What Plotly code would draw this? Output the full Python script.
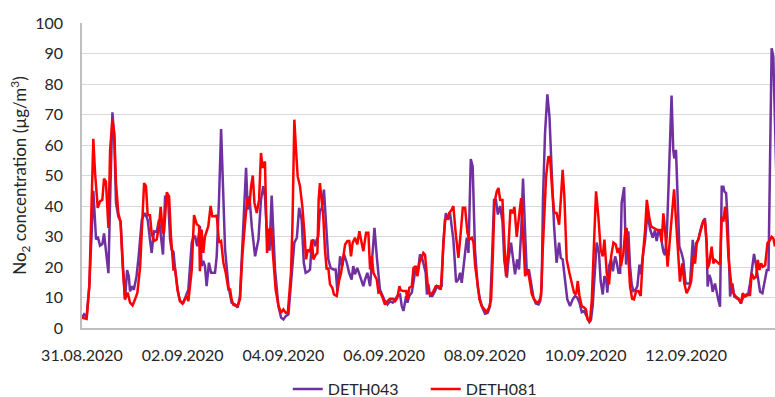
import pandas as pd
import plotly.graph_objects as go

START = pd.Timestamp("2020-08-31 00:00")

# DETH043 readings: hours since 31.08.2020 00:00 and NO2 in µg/m³
deth043_hours = [
    0, 1, 2.2, 3.5, 4.6, 5.4, 6.7, 7.5, 8.6, 9.7, 10.5, 11.5, 12.6, 13.4, 14.5, 15.4,
    16.2, 17.3, 18.4, 19.4, 20.5, 21.5, 22.3, 22.9, 23.9, 24.7, 26, 27, 28.5, 30, 31.3,
    32.4, 33.2, 34.3, 35.6, 36.7, 38, 38.6, 39.6, 41, 42, 42.7, 43.6, 44.4, 45.8, 46.7,
    48.3, 49.6, 50.7, 52.3, 53.1, 53.9, 54.9, 56.2, 57, 57.8, 58.6, 59.4, 60.5, 61.5,
    63.4, 64.2, 65.3, 66.3, 67.4, 68.2, 69.8, 71.3, 72.9, 74.2, 75.3, 76.9, 78.2, 79,
    79.8, 80.9, 82.5, 84.1, 85.3, 86.4, 87.2, 88.5, 89.4, 90.4, 91.2, 92, 93.6, 94.9,
    96, 97.1, 98.4, 99.6, 101.2, 102.4, 103.5, 104.7, 105.7, 106.6, 107.9, 108.7, 109.5,
    110.3, 111.1, 111.9, 112.6, 113.4, 114.2, 115.3, 116.3, 117.4, 118.5, 119.8, 120.9,
    121.7, 123, 124.1, 124.9, 126.2, 127.3, 128.5, 129.3, 130.1, 131.2, 132.2, 133.3,
    134.1, 134.9, 136, 137.3, 138.1, 139.4, 140.5, 141.3, 142, 143.3, 144.4, 145.6,
    146.8, 148.1, 149.2, 150.3, 151.6, 152.4, 153.2, 154.5, 155.1, 156, 157.2, 158,
    159.2, 160, 161.1, 161.9, 163, 163.8, 164.4, 165.1, 165.9, 167, 168.3, 169.1, 170.2,
    171.4, 172.2, 173.4, 174.3, 175.4, 177, 178.3, 179.4, 180.2, 181, 182.3, 183.4,
    184.2, 185.3, 186.2, 187.3, 188.6, 189.7, 190.8, 192.1, 193.4, 194.5, 195.3, 196.4,
    197.3, 198.2, 199.3, 200.4, 201.3, 202.5, 203.3, 204.5, 205.3, 206.4, 207.4, 208.3,
    209.3, 210.2, 211.2, 212, 213, 214, 215.2, 216.3, 217.6, 218.4, 219.1, 219.7, 220.7,
    221.8, 222.8, 223.9, 225, 226.2, 227.4, 228.2, 229.1, 230.2, 231.3, 232.6, 233.9,
    235, 236, 237.1, 238.2, 239.3, 240.6, 241.8, 242.6, 243.4, 244.5, 245.3, 246.4,
    247.2, 248.2, 249, 249.8, 250.4, 251.2, 252.2, 253, 254.1, 254.9, 255.7, 256.5,
    257.2, 258.4, 259.3, 260.4, 261.2, 262, 262.8, 263.9, 264.7, 265.7, 266.3, 267.3,
    268.4, 269.5, 270.8, 272, 273.1, 273.9, 274.7, 275.5, 276.3, 277.1, 277.9, 278.7,
    279.5, 280.3, 281, 281.8, 282.3, 283.1, 283.9, 284.7, 285.8, 286.6, 287.7, 288.7,
    289.8, 291.1, 291.9, 292.7, 293.8, 294.6, 295.7, 296.9, 297.7, 298.2, 299, 299.8,
    300.6, 301.7, 302.5, 303.3, 304.1, 304.9, 305.7, 306.2, 307, 307.8, 308.9, 310,
    310.9, 312.1, 313.2, 314.1, 315.2, 316.3, 317.6, 318.4, 319.2, 320.3, 321.1, 322.1,
    323.2, 324.3, 325.2, 326.4, 327.2, 328, 328.7, 329.5, 330.3, 331.3,
]
deth043_values = [
    3.4, 4.5, 3.5, 14, 31, 45, 29, 30, 27, 27.5, 31, 25, 18, 42, 70.7, 62,
    41, 36.6, 35, 22, 9.4, 19, 17, 12, 13.7, 12.5, 17, 23.5, 35.5, 37.7, 35.5,
    29, 24.6, 31.7, 31.5, 35.5, 26.8, 24.1, 43, 43, 29, 25.7, 25, 19, 11.6, 8.8,
    8.3, 10.5, 12.6, 28, 30, 30, 26.8, 33.4, 20.3, 22, 20.3, 13.7, 21.4, 18.1,
    18.1, 23.5, 42, 65.2, 42, 25.7, 13.7, 8.3, 7.7, 6.7, 10.5, 36.6, 52.5, 38.8,
    43.2, 33.4, 23.5, 29, 42, 46.5, 43.2, 25.7, 25.7, 43.4, 30, 19.2, 7.2, 3.4,
    2.8, 3.9, 4.5, 13.7, 28, 29.6, 39.4, 35.5, 21.4, 18.1, 18.6, 19.2, 28,
    29, 26.8, 29, 30, 38.8, 38.8, 45.4, 32.3, 22.5, 19.7, 19.2, 19.2,
    12.1, 23.5, 20.3, 24.1, 21.4, 18.1, 15.9, 20.3, 17.6, 19.7, 17.6, 15.9,
    13.7, 15.9, 18.1, 13.7, 21.4, 32.8, 23.5, 18, 12.6, 10.5, 8.8, 7.7,
    8.8, 8.3, 9.4, 10.5, 11, 7.2, 5.6, 10.5, 8.3, 10.5, 11.6, 14.8,
    20.3, 18.1, 24.1, 23.5, 19.7, 18.1, 11, 14.3, 10.5, 10.5, 12.1, 13.7, 13,
    13.7, 28, 37.7, 35.5, 37.7, 29, 15, 15.9, 18.1, 14.8, 23.5, 29.6,
    24.6, 55.4, 53, 25.7, 13.7, 9.4, 6.7, 4.7, 5, 7.2, 20.3, 42,
    42, 37.2, 40, 35, 21.9, 16.5, 22.5, 28, 23.5, 17.6, 22.5, 19.2,
    31.2, 49, 31.2, 18.1, 19.2, 14.3, 9.9, 8, 7.7, 8.8, 13.7, 42, 64,
    76.6, 69.4, 50.8, 33.4, 21.4, 28, 23, 22.5, 15.9, 9.4, 7.2, 9.4,
    10.5, 10, 8.3, 5.2, 5.6, 3.9, 2, 2.8, 7.2, 19.2, 28, 24.6,
    15.4, 11, 17, 16, 11.6, 20.3, 22.5, 18.6, 23.5, 21.4, 18.1, 18.1,
    41, 46.2, 20.8, 31.7, 20.3, 14.3, 12.1, 12.6, 13.7, 20.8, 17.6, 23.5,
    29, 37.7, 32.3, 29.6, 32, 28.5, 31.6, 31.6, 27.8, 25, 23.9, 30,
    45.2, 61.6, 76.2, 58.4, 55.6, 58.4, 39.8, 26.7, 24.5, 22.3, 14.6, 14.6,
    14.6, 28.9, 21.2, 27.8, 28.9, 31.6, 34.3, 36, 28, 13.6, 17.4, 15.7,
    11.9, 14.6, 11.4, 9.2, 7, 46.3, 46.3, 44.7, 44.2, 34.3, 10.3, 14.6,
    10.3, 9.7, 9.2, 8.1, 10.3, 10.8, 11.4, 14.6, 19, 24.3, 21.2, 16.8,
    11.9, 11.4, 14.6, 19, 19, 54, 91.7, 89, 65, 40,
]

# DETH081 readings: hours since 31.08.2020 00:00 and NO2 in µg/m³
deth081_hours = [
    0, 2.2, 3.5, 4.6, 5.4, 6.2, 7.5, 8.6, 9.7, 10.5, 11.4, 12.6, 13.4, 14.5, 15.4,
    16.2, 17.3, 18.4, 19.4, 20.5, 21.8, 22.9, 24.1, 25.3, 26.4, 27.7, 28.5, 29.6,
    30.5, 31.3, 32.4, 33.2, 34.3, 35.6, 36.7, 37.5, 38.5, 39.1, 40.4, 41.5, 42.4,
    43.6, 44.4, 45.5, 46.7, 47.9, 49, 50, 50.7, 52.3, 53.4, 54.7, 55.8, 56.2, 57,
    57.8, 58.6, 60.2, 61.3, 62.1, 63.4, 64.2, 65.3, 66.3, 67.4, 68.5, 69.8, 70.6,
    71.3, 72.1, 72.9, 74.2, 75.3, 76.4, 77.7, 78.8, 79.8, 80.6, 81.4, 82.2, 83.3,
    84.4, 85.3, 86.1, 87.2, 88.2, 89.2, 90.1, 91.2, 92.3, 93.6, 94.9, 96, 97.1,
    98.1, 99.6, 100.3, 101.2, 102, 102.8, 103.9, 105, 106, 106.8, 107.6, 108.7,
    109.5, 110.3, 111.5, 112.2, 112.8, 113.4, 114.2, 115, 115.8, 116.6, 117.4,
    118.2, 119.3, 120.1, 121.4, 122.5, 123.5, 124.6, 125.4, 126.5, 127.4, 128.2,
    129, 130.1, 131.2, 132.2, 133, 134.1, 135.4, 136.5, 137.3, 138.1, 138.9,
    140.5, 141.3, 142.1, 143.3, 144.4, 145.6, 146.8, 148.1, 149.2, 150.3, 151.3,
    151.9, 153.2, 154.5, 155.1, 156, 157.2, 158, 159, 159.9, 160.8, 161.6, 162.7,
    163.5, 164.3, 165.1, 166.4, 167.5, 168.6, 169.9, 171, 171.8, 173, 174.2, 175,
    176.2, 177, 178.1, 179.4, 180.5, 181.5, 182.6, 183.7, 184.6, 185.8, 186.6,
    187.4, 188.5, 189.4, 190.5, 191.8, 192.9, 194, 195, 195.8, 196.6, 197.7, 198.5,
    199.3, 200.4, 201.3, 202.1, 203.2, 204.2, 205.2, 206.1, 207.2, 208.3, 209.3,
    210.2, 211.2, 212.5, 213.4, 214.4, 215.5, 216.8, 217.9, 218.8, 219.6, 220.4,
    221.2, 222.3, 223.1, 224.2, 225.1, 226.2, 227.4, 228.2, 229.1, 229.9, 231,
    232.3, 233.4, 234.5, 235.5, 236.3, 237.1, 238.2, 239.3, 240.2, 241, 242.1,
    243, 244.1, 245, 246.1, 247.2, 248.2, 249, 250.1, 251.2, 252.2, 253.3, 254.4,
    255.3, 256.1, 256.9, 258, 259, 259.6, 260.4, 261.2, 262.2, 263.1, 264.1, 265.2,
    266.3, 267.3, 268.4, 269.2, 270.3, 271.2, 272.4, 273.6, 274.3, 275.5, 276.3,
    277.1, 277.9, 279.1, 280.3, 281.4, 282.2, 283, 283.9, 285, 286.1, 287.1, 288.2,
    289.3, 290.3, 291.4, 292.2, 293, 294.1, 295, 296.2, 297, 297.7, 298.2, 299,
    300.1, 300.9, 301.7, 302.5, 303.3, 304.1, 304.9, 305.7, 306.5, 307.3, 308.1,
    309.4, 310.5, 311.6, 312.8, 314.1, 314.9, 316, 317.3, 318.4, 319.2, 320.3,
    321.3, 322.1, 322.9, 323.7, 324.5, 325.6, 326.7, 328, 328.7, 329.5, 330.3,
]
deth081_values = [
    3.4, 3, 13.7, 42, 62, 51, 39.4, 41.5, 42, 49, 48, 32.8, 58.5, 68.3, 64,
    47.5, 37.7, 34.5, 20, 9.4, 11.6, 8.3, 7.4, 9.4, 11.6, 20, 31, 47.5,
    46.5, 37, 37, 31, 28.5, 29, 33.4, 39.7, 31, 31.5, 44.5, 43.2, 30,
    19.2, 19.2, 12.6, 8.8, 8, 9.4, 10.5, 8.8, 19, 37, 34, 33.4, 18.6, 32.3,
    24.6, 30, 33.4, 40, 36.6, 36.6, 37, 28, 28.5, 21.4, 18.1, 12.6, 12.6,
    9.4, 7.7, 7.4, 7.4, 9.4, 23.5, 34.5, 42.6, 40, 46.5, 50, 41, 37.7,
    42, 57.4, 52.5, 54.6, 24.6, 32.3, 32.8, 22.5, 12.6, 7.4, 5, 6.1, 5,
    5, 18.1, 33.4, 68.3, 58.5, 49.7, 46.5, 40, 31.2, 22.5, 25.7, 25,
    29, 22.5, 24.1, 24.6, 42, 47.5, 42, 36.6, 25.7, 19.2, 19.7,
    14.3, 13.2, 11, 10.5, 15.4, 18.1, 24.1, 27.4, 28.5, 28.5, 23.5,
    27.9, 29.6, 27.4, 31.7, 29, 25.2, 31.2, 31.2, 19.2, 23.5, 18.1,
    15.9, 11.6, 11.8, 9.9, 7.7, 8.8, 9.6, 9.6, 8.8, 9.9, 13.7,
    12.4, 12.1, 12.1, 9.4, 13.2, 13.7, 19.7, 20.3, 17, 21.4, 22.5, 24.6,
    24, 18.1, 11.6, 11, 12.1, 13.7, 13.7, 12.6, 22.5, 35.5, 36, 37.7,
    38.8, 40, 31.2, 23, 31.2, 39.4, 39.4, 31.2, 29, 29.6, 28,
    20.3, 14.8, 9.4, 7.2, 5.9, 5.2, 6.7, 9.4, 23.5, 41, 44.8, 45.9,
    42, 42, 28, 17, 25.7, 38.8, 37.7, 39.7, 29.9, 37.7, 42.6,
    31.2, 17, 19.2, 15.4, 11, 9.4, 8.3, 8.8, 10.5, 25.7, 40,
    49.7, 56.3, 55.7, 44.3, 37.7, 37.7, 33.9, 42, 51.9, 43.2, 22.5,
    18.1, 14.8, 11.6, 11, 15.4, 10.5, 7.2, 6.7, 6.1, 2.8, 2,
    9.4, 29, 44.8, 36.6, 25.7, 23.5, 29, 18.1, 14.3, 23.5, 28, 27.4,
    24.6, 26.3, 20.3, 24.6, 32.3, 32.8, 24.6, 13.7, 9.6, 9.4, 12.1, 12.1,
    10.5, 23.5, 32.3, 42, 36.6, 33.4, 32.8, 32.3, 32.1, 32.1, 28.3,
    37.6, 32.1, 20.1, 31, 40.9, 45.5, 36.5, 25.6, 15.2, 21.2, 14.6, 11.4,
    13, 15.2, 23.4, 21.2, 27.8, 29.9, 32.1, 35.4, 34.3, 27.8, 19.6, 21.2,
    26.7, 21.2, 22.3, 21.8, 21.2, 20.8, 36.5, 34.9, 39.8, 34.3, 23.4,
    14.6, 11.4, 10.3, 9.7, 8.1, 11.4, 10.3, 10.8, 10.8, 17.9, 16.3,
    16.8, 22.3, 19, 21.2, 20.1, 20.6, 27.8, 28.9, 29.9, 29.4, 26.7,
]

x_end_hours = 330.3
tick_days = 2

PURPLE = "#7030A0"
RED = "#FF0000"
GRID = "#D9D9D9"
AXIS = "#BFBFBF"
TEXT = "#262626"
FONT = "Lato"


def to_time(hours):
    return START + pd.to_timedelta(hours, unit="h")


fig = go.Figure()
fig.add_trace(go.Scatter(
    x=to_time(deth043_hours), y=deth043_values, mode="lines", name="DETH043",
    line=dict(color=PURPLE, width=2.5),
))
fig.add_trace(go.Scatter(
    x=to_time(deth081_hours), y=deth081_values, mode="lines", name="DETH081",
    line=dict(color=RED, width=2.5),
))

fig.update_layout(
    width=775, height=397,
    margin=dict(l=82, r=0, t=23, b=69, autoexpand=False),
    paper_bgcolor="white", plot_bgcolor="white",
    font=dict(family=FONT, size=16, color=TEXT),
    showlegend=True,
    legend=dict(
        orientation="h", x=0.496, xanchor="center", y=-0.2, yanchor="middle",
        entrywidth=93,
        font=dict(family=FONT, size=16, color=TEXT), traceorder="normal",
    ),
    xaxis=dict(
        type="date",
        range=[START, to_time(x_end_hours)],
        tick0=START, dtick=tick_days * 86400000, tickformat="%d.%m.%Y",
        showgrid=False, showline=True, linecolor=AXIS, linewidth=1.5,
        ticks="", ticklabelstandoff=12, zeroline=False, automargin=False,
        tickfont=dict(family=FONT, size=16, color=TEXT),
    ),
    yaxis=dict(
        range=[0, 100], dtick=10, tick0=0,
        showgrid=True, gridcolor=GRID, gridwidth=1,
        showline=True, linecolor=AXIS, linewidth=1.5,
        ticks="", ticklabelstandoff=14, zeroline=False, automargin=False,
        tickfont=dict(family=FONT, size=16, color=TEXT),
        title=dict(
            text="No<sub>2</sub> concentration (µg/m<sup>3</sup>)",
            font=dict(family=FONT, size=17, color=TEXT), standoff=4,
        ),
    ),
)

fig.write_html("out.html")
